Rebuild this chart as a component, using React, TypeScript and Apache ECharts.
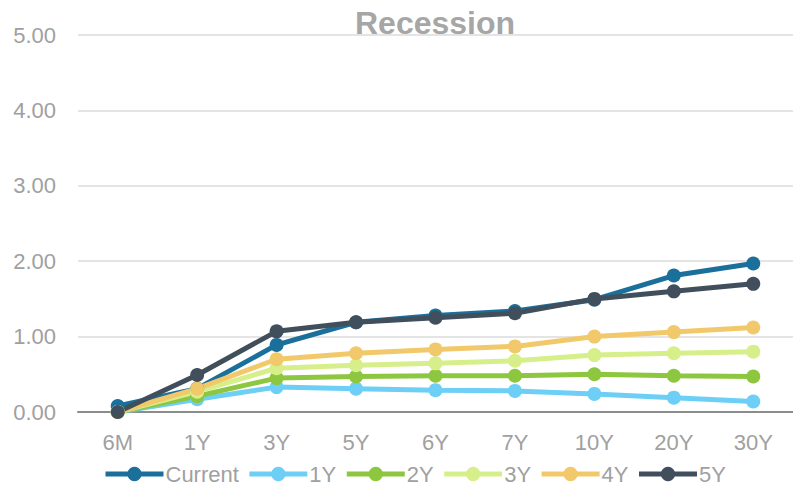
import React, { useEffect, useRef } from "react";
import * as echarts from "echarts";

const categories = ["6M", "1Y", "3Y", "5Y", "6Y", "7Y", "10Y", "20Y", "30Y"];
const seriesNames = ["Current", "1Y", "2Y", "3Y", "4Y", "5Y"];
const current = [0.08, 0.31, 0.89, 1.19, 1.28, 1.34, 1.49, 1.81, 1.97];
const y1 = [0.0, 0.17, 0.33, 0.31, 0.29, 0.28, 0.24, 0.19, 0.14];
const y2 = [0.0, 0.21, 0.45, 0.47, 0.48, 0.48, 0.5, 0.48, 0.47];
const y3 = [0.0, 0.27, 0.58, 0.62, 0.645, 0.68, 0.755, 0.78, 0.8];
const y4 = [0.0, 0.31, 0.7, 0.78, 0.83, 0.87, 1.0, 1.06, 1.12];
const y5 = [0.0, 0.49, 1.07, 1.19, 1.25, 1.31, 1.5, 1.6, 1.7];
const colors = ["#1b6f9b", "#6dcff6", "#8dc63f", "#d7ef8a", "#f1c96b", "#414e5c"];

export default function App() {
  const ref = useRef<HTMLDivElement>(null);
  useEffect(() => {
    const chart = echarts.init(ref.current!, null, { renderer: "svg" });
    const data = [current, y1, y2, y3, y4, y5];
    chart.setOption({
      animation: false,
      color: colors,
      title: {
        text: "Recession",
        left: 430,
        textAlign: "center",
        top: 2,
        textStyle: { fontFamily: "Liberation Sans", fontSize: 32, fontWeight: "bold", color: "#a6a6a6" },
      },
      legend: {
        left: 103,
        top: 463,
        padding: 0,
        itemWidth: 58,
        itemHeight: 18,
        itemGap: 8,
        lineStyle: { width: 5 },
        textStyle: { fontFamily: "Liberation Sans", fontSize: 22, color: "#a0a0a0", padding: [0, 0, 0, -3] },
        data: seriesNames,
      },
      grid: { left: 78, right: -5, top: 35, bottom: 76 },
      xAxis: {
        type: "category",
        data: categories,
        boundaryGap: true,
        axisLine: { lineStyle: { color: "#8c8c8c", width: 2 } },
        axisTick: { show: false },
        axisLabel: { fontFamily: "Liberation Sans", fontSize: 22, color: "#a0a0a0", margin: 19 },
      },
      yAxis: {
        type: "value",
        min: 0,
        max: 5,
        interval: 1,
        axisLine: { show: false },
        axisTick: { show: false },
        splitLine: { lineStyle: { color: "#e4e4e4", width: 2 } },
        axisLabel: {
          fontFamily: "Liberation Sans",
          fontSize: 22,
          color: "#a0a0a0",
          margin: 22,
          formatter: (v: number) => v.toFixed(2),
        },
      },
      series: seriesNames.map((n, i) => ({
        name: n,
        type: "line",
        data: data[i],
        symbol: "circle",
        symbolSize: 14,
        lineStyle: { width: 5, color: colors[i] },
        itemStyle: { color: colors[i] },
      })),
    });
    return () => chart.dispose();
  }, []);
  return <div ref={ref} style={{ width: 793, height: 488, position: "absolute", left: 0, top: 0 }} />;
}
